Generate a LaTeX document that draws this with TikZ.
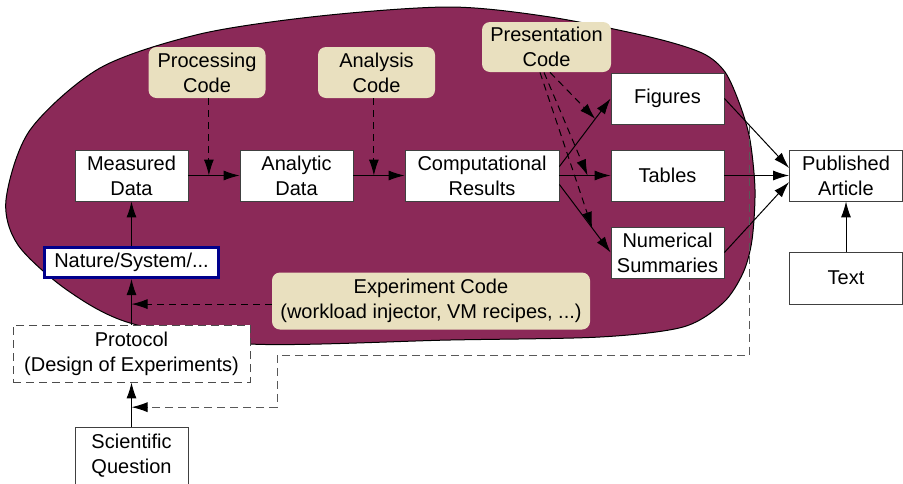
\documentclass[tikz,border=0pt]{standalone}
\usepackage{fontspec}
\setmainfont{Liberation Sans}
\usetikzlibrary{arrows.meta}

\definecolor{blobred}{RGB}{139,41,88}
\definecolor{codetan}{RGB}{233,224,191}
\definecolor{natureblue}{RGB}{0,0,140}

\tikzstyle{data} = [rectangle, draw=black!75, fill=white, align=center, inner sep=0pt, minimum width=56.5pt, minimum height=25.5pt, font=\fontsize{10}{12.5}\selectfont]
\tikzstyle{code} = [rectangle, rounded corners=4pt, fill=codetan, align=center, inner sep=0pt, minimum width=58.5pt, minimum height=25.5pt, font=\fontsize{10}{12.5}\selectfont]
\tikzstyle{protocol} = [data, draw=black!70, dash pattern=on 4pt off 2.5pt, minimum width=118.5pt, minimum height=28.5pt]
\tikzstyle{nature} = [data, draw=natureblue, line width=1.5pt, minimum width=87pt, minimum height=15pt]
\tikzstyle{flow} = [black, line width=0.5pt, -{Latex[length=8pt, width=5pt]}]
\tikzstyle{code_flow} = [flow, dash pattern=on 3.5pt off 2.5pt]
\tikzstyle{feedback} = [black!65, line width=0.5pt, dash pattern=on 4pt off 2.5pt, -{Latex[length=8pt, width=5pt, color=black]}]

\begin{document}
\begin{tikzpicture}[x=0.5pt, y=-0.5pt]

    \useasboundingbox (0,0) rectangle (903,483);

    % the cloud behind everything that is computed
    \draw [fill=blobred, draw=black, line width=0.5pt] plot [smooth cycle, tension=0.5] coordinates {
        (6,200) (30,130) (100,68) (200,34) (320,16) (450,7) (550,17) (650,37)
        (702,53) (725,72) (740,105) (750,140) (755,190) (752,240) (743,273)
        (723,303) (683,327) (600,337) (450,340) (250,344) (130,323) (67,290) (18,245)
    };

    \node (measured) [data] at (131.5,175.5) {Measured\\Data};
    \node (analytic) [data] at (296.5,175.5) {Analytic\\Data};
    \node (results) [data, minimum width=77pt] at (482,175.5) {Computational\\Results};

    \node (figures) [data] at (667.5,98.5) {Figures};
    \node (tables) [data] at (667.5,175.5) {Tables};
    \node (summaries) [data] at (667.5,252.5) {Numerical\\Summaries};

    \node (article) [data] at (846,175.5) {Published\\Article};
    \node (text) [data, minimum height=26pt] at (846,278) {Text};

    \node (nature) [nature] at (131.5,262.5) {Nature/System/...};
    \node (protocol) [protocol] at (131.5,353.5) {Protocol\\(Design of Experiments)};
    \node (question) [data, minimum height=28.5pt] at (131.5,455.5) {Scientific\\Question};

    \node (processing) [code] at (207,72.5) {Processing\\Code};
    \node (analysis) [code] at (376.5,72.5) {Analysis\\Code};
    \node (presentation) [code, minimum width=64.5pt, minimum height=25pt] at (546.5,47) {Presentation\\Code};
    \node (experiment) [code, minimum width=159pt, minimum height=28.5pt] at (431,301) {Experiment Code\\(workload injector, VM recipes, ...)};

    \draw [flow] (measured) -- coordinate [pos=0.4] (procin) (analytic);
    \draw [flow] (analytic) -- coordinate [pos=0.4] (anain) (results);
    \draw [flow] ([yshift=4.5pt]results.east) -- coordinate [pos=0.7] (figin) (figures.west);
    \draw [flow] (results) -- coordinate [pos=0.55] (tabin) (tables);
    \draw [flow] ([yshift=-4.5pt]results.east) -- coordinate [pos=0.64] (sumin) (summaries.west);

    \draw [flow] (figures.east) -- coordinate [pos=0.39] (fbout) ([yshift=3.75pt]article.west);
    \draw [flow] (tables) -- (article);
    \draw [flow] (summaries.east) -- ([yshift=-3.25pt]article.west);
    \draw [flow] (text) -- (article);

    \draw [flow] (nature) -- (measured);
    \draw [flow] (protocol) -- coordinate [pos=0.45] (expin) (nature);
    \draw [flow] (question) -- coordinate [pos=0.44] (fbin) (protocol);

    \draw [code_flow] (processing.south -| procin) -- (procin);
    \draw [code_flow] (analysis.south -| anain) -- (anain);
    \draw [code_flow] ([xshift=1.75pt]presentation.south) -- (figin);
    \draw [code_flow] ([xshift=-1.25pt]presentation.south) -- (tabin);
    \draw [code_flow] ([xshift=-3.25pt]presentation.south) -- (sumin);
    \draw [code_flow] (experiment.west |- expin) -- (expin);

    % feedback from the article back to the protocol
    \coordinate (fbturn) at (277,355);
    \draw [feedback] (fbout) |- (fbturn) |- (fbin);

\end{tikzpicture}
\end{document}
